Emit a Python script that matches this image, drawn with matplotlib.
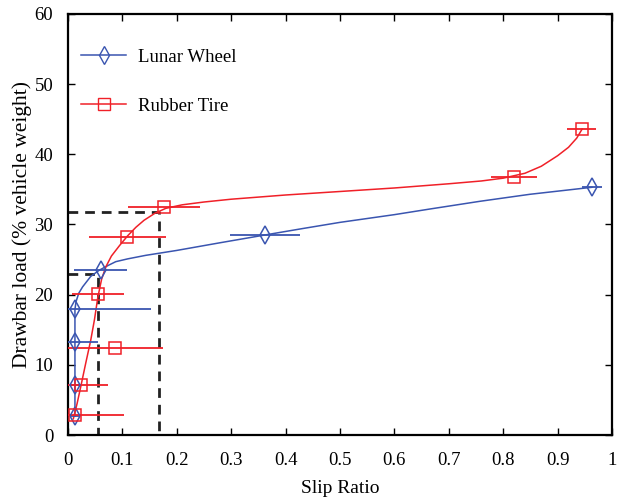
import matplotlib
matplotlib.use("Agg")
import matplotlib.pyplot as plt
from matplotlib.lines import Line2D

plt.rcParams['font.family'] = ['Liberation Serif', 'DejaVu Serif']

# Lunar wheel measurements
lw_x = [0.013, 0.013, 0.013, 0.013, 0.060, 0.362, 0.963]
lw_y = [2.7, 7.1, 13.3, 17.9, 23.5, 28.5, 35.3]
lw_xerr = [0.008, 0.010, 0.042, 0.140, 0.048, 0.064, 0.018]

# Rubber tire measurements
rt_x = [0.013, 0.024, 0.087, 0.055, 0.109, 0.176, 0.820, 0.944]
rt_y = [2.85, 7.1, 12.4, 20.1, 28.2, 32.5, 36.8, 43.6]
rt_xerr = [0.090, 0.050, 0.087, 0.048, 0.071, 0.066, 0.042, 0.026]

# Fitted curves
lw_fit_x = [0.013, 0.013, 0.015, 0.020, 0.027, 0.042, 0.058, 0.075, 0.088, 0.110,
            0.143, 0.200, 0.280, 0.362, 0.430, 0.500, 0.600, 0.665, 0.757, 0.849, 0.963]
lw_fit_y = [2.7, 17.9, 19.0, 20.2, 21.1, 22.6, 23.5, 24.2, 24.7, 25.1,
            25.6, 26.3, 27.4, 28.5, 29.4, 30.3, 31.4, 32.2, 33.3, 34.3, 35.3]

rt_fit_x = [0.010, 0.017, 0.024, 0.033, 0.042, 0.049, 0.055, 0.062, 0.070, 0.080,
            0.095, 0.110, 0.125, 0.140, 0.160, 0.180, 0.210, 0.250, 0.300, 0.400,
            0.500, 0.600, 0.700, 0.760, 0.800, 0.840, 0.870, 0.900, 0.920, 0.935, 0.945]
rt_fit_y = [2.3, 4.5, 7.0, 10.3, 13.5, 16.5, 19.6, 22.2, 24.0, 25.5,
            27.0, 28.4, 29.6, 30.6, 31.6, 32.3, 32.8, 33.2, 33.6, 34.2,
            34.7, 35.2, 35.8, 36.2, 36.6, 37.3, 38.3, 39.8, 41.0, 42.3, 43.6]

# Reference dashed guides (slip, load)
guide_x = [0.0558, 0.1667]
guide_y = [23.0, 31.8]

xticks = [0, 0.1, 0.2, 0.3, 0.4, 0.5, 0.6, 0.7, 0.8, 0.9, 1]
xticklabels = ['0', '0.1', '0.2', '0.3', '0.4', '0.5', '0.6', '0.7', '0.8', '0.9', '1']
yticks = [0, 10, 20, 30, 40, 50, 60]

blue = '#3a55b0'
red = '#f02028'

fig = plt.figure(figsize=(6.17, 4.98), dpi=100)
ax = fig.add_axes([0.110, 0.1265, 0.882, 0.8455])

for gx, gy in zip(guide_x, guide_y):
    ax.plot([0, gx, gx], [gy, gy, 0], color='#222222', lw=2.0, ls=(0, (3.5, 2.5)), zorder=2)

ax.plot(lw_fit_x, lw_fit_y, color=blue, lw=1.1, zorder=3)
ax.plot(rt_fit_x, rt_fit_y, color=red, lw=1.1, zorder=3)

ax.errorbar(lw_x, lw_y, xerr=lw_xerr, fmt='d', color=blue, ecolor=blue, elinewidth=1.3,
            capsize=0, markersize=9, markerfacecolor='none', markeredgewidth=1.1, zorder=4)
ax.errorbar(rt_x, rt_y, xerr=rt_xerr, fmt='s', color=red, ecolor=red, elinewidth=1.3,
            capsize=0, markersize=8, markerfacecolor='none', markeredgewidth=1.1, zorder=4)

ax.set_xlim(0, 1)
ax.set_ylim(0, 60)
ax.set_xticks(xticks)
ax.set_xticklabels(xticklabels)
ax.set_yticks(yticks)
ax.tick_params(direction='in', top=True, right=True, length=5, width=1.0, labelsize=13.5)
ax.tick_params(axis='x', pad=12)
ax.tick_params(axis='y', pad=10.5)
for s in ax.spines.values():
    s.set_linewidth(1.6)

ax.set_xlabel('Slip Ratio', fontsize=14, labelpad=8)
ax.set_ylabel('Drawbar load (% vehicle weight)', fontsize=15.5, labelpad=2)

handles = [Line2D([0], [0], color=blue, lw=1.1, marker='d', markersize=9,
                  markerfacecolor='none', markeredgewidth=1.0),
           Line2D([0], [0], color=red, lw=1.1, marker='s', markersize=8,
                  markerfacecolor='none', markeredgewidth=1.0)]
ax.legend(handles, ['Lunar Wheel', 'Rubber Tire'], loc='upper left', frameon=False,
          fontsize=13.5, bbox_to_anchor=(-0.006, 0.958), handlelength=2.4, labelspacing=1.7,
          handletextpad=0.6)

fig.savefig('out.png', dpi=100)
